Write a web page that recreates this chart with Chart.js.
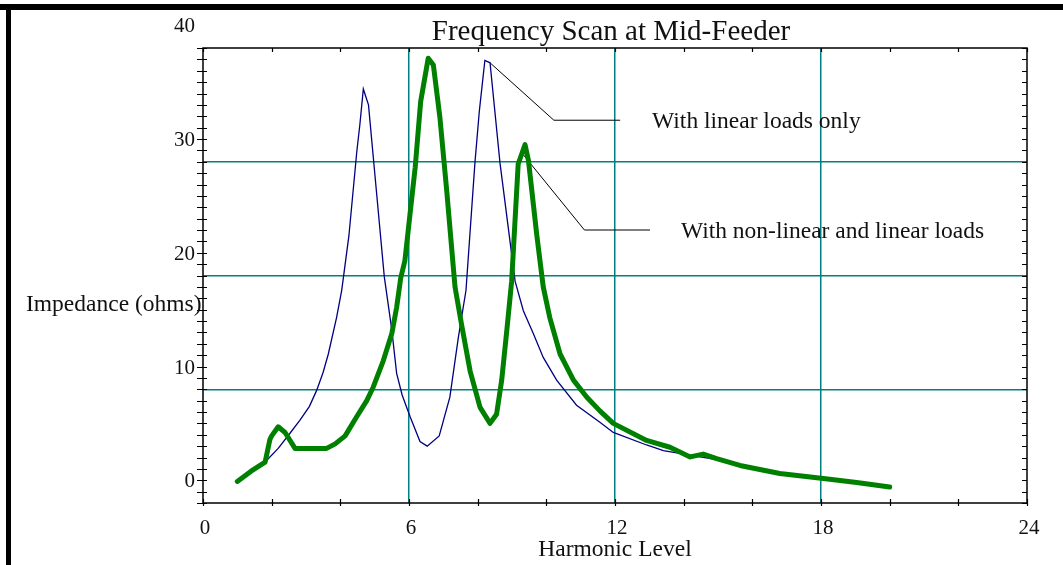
<!DOCTYPE html>
<html>
<head>
<meta charset="utf-8">
<script src="https://cdn.jsdelivr.net/npm/chart.js@4/dist/chart.umd.min.js"></script>
<style>
body{margin:0;background:#fff;}
#wrap{width:1063px;height:565px;}
</style>
</head>
<body>
<div id="wrap"><canvas id="myChart" width="1063" height="565"></canvas></div>
<script>
// harmonic level / impedance
var linearH = [1.0,1.4,1.81,2.19,2.5,2.83,3.1,3.31,3.5,3.65,3.89,4.04,4.25,4.48,4.57,4.67,4.82,4.96,5.28,5.5,5.64,5.8,6.03,6.32,6.53,6.88,7.19,7.44,7.66,7.92,8.05,8.21,8.36,8.65,9.09,9.33,9.62,9.91,10.3,10.88,11.56,11.95,12.92,13.41,14.19,15.0,15.64,16.8,18.07,19.04,20.0];
var linearZ = [-0.1,0.7,1.6,2.8,4.0,5.3,6.5,7.9,9.5,11.1,14.3,16.7,21.5,28.9,31.3,34.4,33.0,28.4,17.9,13.2,9.4,7.5,5.6,3.4,3.0,3.9,7.3,12.6,16.7,27.9,32.5,36.9,36.7,27.9,17.5,14.9,12.9,10.8,8.8,6.6,5.1,4.2,3.1,2.6,2.2,1.8,1.3,0.6,0.15,-0.2,-0.6];

var nonlinH = [1.0,1.4,1.81,1.95,2.0,2.19,2.39,2.68,3.6,3.85,4.14,4.48,4.77,4.96,5.25,5.5,5.64,5.76,5.88,6.03,6.18,6.34,6.56,6.71,6.9,7.1,7.34,7.53,7.78,8.07,8.36,8.55,8.7,8.85,8.99,9.18,9.38,9.48,9.72,9.91,10.1,10.4,10.79,11.18,11.56,11.95,12.92,13.6,14.19,14.57,14.96,15.64,16.8,18.07,19.04,20.0];
var nonlinZ = [-0.1,0.8,1.6,3.6,3.9,4.7,4.2,2.8,2.8,3.2,3.9,5.6,7.0,8.2,10.5,12.9,15.2,17.8,19.3,23.4,27.5,33.3,37.1,36.5,31.9,25.4,17.0,13.7,9.6,6.4,5.0,5.8,8.8,13.2,17.5,27.8,29.5,28.1,21.6,17.0,14.3,11.1,8.8,7.3,6.1,5.0,3.5,2.9,2.05,2.3,1.9,1.3,0.6,0.15,-0.2,-0.6];

// callout leader lines and their labels
var leader1H = [8.36,10.22,12.15];
var leader1Z = [36.7,31.65,31.65];
var leader2H = [9.28,11.11,13.02];
var leader2Z = [28.8,22.0,22.0];
var calloutText = ['With linear loads only','With non-linear and linear loads'];
var calloutH = [13.08,13.92];
var calloutZ = [31.65,22.0];

var xLabels = [0,6,12,18,24];
var yLabels = [0,10,20,30,40];
var yGrid = [-2,8,18,28,38];
var TEAL = '#008080';
var SERIF = '"Liberation Serif","Times New Roman",serif';

function pts(h,z){
    var out=[];
    for(var i=0;i<h.length;i++){ out.push({x:h[i],y:z[i]}); }
    return out;
}

var decor = {
    id:'decor',
    afterDraw:function(chart){
        var c = chart.ctx, a = chart.chartArea;
        var xs = chart.scales.x, ys = chart.scales.y;
        c.save();
        // page frame
        c.fillStyle='#000';
        c.fillRect(0,4,1063,6);
        c.fillRect(6,4,5,561);
        // plot box
        c.strokeStyle='#000';
        c.lineWidth=1.5;
        c.strokeRect(a.left,a.top,a.right-a.left,a.bottom-a.top);
        c.lineWidth=1.2;
        c.beginPath();
        for(var v=-2;v<=38;v++){
            var py=Math.round(ys.getPixelForValue(v))+0.5;
            c.moveTo(a.left-6,py); c.lineTo(a.left+4,py);
            c.moveTo(a.right-5,py); c.lineTo(a.right,py);
        }
        for(var h=0;h<=24;h+=2){
            var px=Math.round(xs.getPixelForValue(h))+0.5;
            c.moveTo(px,a.bottom-4); c.lineTo(px,a.bottom+3);
            c.moveTo(px,a.top); c.lineTo(px,a.top+4);
        }
        c.stroke();
        // tick labels
        c.fillStyle='#111';
        c.font='21px '+SERIF;
        c.textAlign='right';
        c.textBaseline='alphabetic';
        yLabels.forEach(function(v){
            c.fillText(String(v),a.left-8,ys.getPixelForValue(v)+7);
        });
        c.textAlign='center';
        xLabels.forEach(function(v){
            c.fillText(String(v),xs.getPixelForValue(v)+2,a.bottom+31);
        });
        // titles
        c.font='23.5px '+SERIF;
        c.fillText('Harmonic Level',(a.left+a.right)/2,a.bottom+53);
        c.textAlign='left';
        c.fillText('Impedance (ohms)',26,311);
        calloutText.forEach(function(t,i){
            c.fillText(t,xs.getPixelForValue(calloutH[i]),ys.getPixelForValue(calloutZ[i])+8);
        });
        c.textAlign='center';
        c.font='29px '+SERIF;
        c.fillText('Frequency Scan at Mid-Feeder',611,40);
        c.restore();
    }
};

var ctx = document.getElementById('myChart').getContext('2d');
var myChart = new Chart(ctx, {
    type:'line',
    data:{
        datasets:[{
            label:'With non-linear and linear loads',
            data:pts(nonlinH,nonlinZ),
            borderColor:'#008000',
            borderWidth:5,
            borderCapStyle:'round',
            borderJoinStyle:'round',
            pointRadius:0,
            order:0
        },{
            label:'With linear loads only',
            data:pts(linearH,linearZ),
            borderColor:'#000080',
            borderWidth:1.3,
            pointRadius:0,
            order:1
        },{
            label:'leader1',
            data:pts(leader1H,leader1Z),
            borderColor:'#000',
            borderWidth:1,
            pointRadius:0,
            order:2
        },{
            label:'leader2',
            data:pts(leader2H,leader2Z),
            borderColor:'#000',
            borderWidth:1,
            pointRadius:0,
            order:2
        }]
    },
    options:{
        responsive:false,
        animation:false,
        devicePixelRatio:1,
        layout:{padding:{left:203,top:48,right:36,bottom:62}},
        plugins:{legend:{display:false},tooltip:{enabled:false},title:{display:false}},
        scales:{
            x:{
                type:'linear',min:0,max:24,
                ticks:{display:false,stepSize:6},
                border:{display:false},
                grid:{drawTicks:false,lineWidth:1.5,
                    color:function(k){ var v=k.tick.value; return (v>0&&v<24)?TEAL:'rgba(0,0,0,0)'; }}
            },
            y:{
                type:'linear',min:-2,max:38,
                afterBuildTicks:function(s){ s.ticks=yGrid.map(function(v){return {value:v};}); },
                ticks:{display:false},
                border:{display:false},
                grid:{drawTicks:false,lineWidth:1.5,
                    color:function(k){ var v=k.tick.value; return (v>-2&&v<38)?TEAL:'rgba(0,0,0,0)'; }}
            }
        }
    },
    plugins:[decor]
});
</script>
</body>
</html>
